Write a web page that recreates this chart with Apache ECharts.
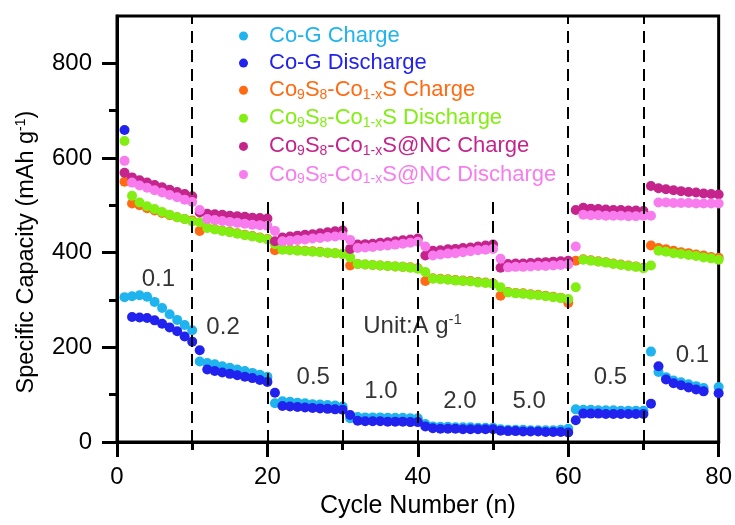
<!DOCTYPE html>
<html>
<head>
<meta charset="utf-8">
<script src="https://cdn.jsdelivr.net/npm/echarts@6/dist/echarts.min.js"></script>
<style>
html, body { margin: 0; padding: 0; background: #fff; }
#chart { width: 735px; height: 525px; }
</style>
</head>
<body>
<div id="chart"></div>
<script>
// cycle number of every point
var cycles = [];
for (var c = 1; c <= 80; c++) cycles.push(c);

// capacities (mAh/g), one value per cycle, null = no point
var coGCharge = [
	306, 308, 310, 307, 296, 283, 270, 258, 247, 236,
	170, 167, 164, 160, 157, 153, 150, 146, 142, 138,
	82, 86, 85, 83, 82, 80, 79, 78, 77, 75,
	50, 53, 52, 52, 52, 51, 51, 51, 50, 50,
	38, 33, 32, 32, 31, 31, 31, 30, 30, 30,
	27, 26, 26, 26, 25, 25, 25, 25, 26, 28,
	69, 68, 68, 67, 67, 67, 66, 66, 66, 66,
	191, 148, 137, 130, 126, 122, 118, 114, null, 116
];
var coGDischarge = [
	659, 264, 263, 262, 257, 250, 242, 234, 223, 212,
	194, 153, 150, 147, 144, 141, 138, 135, 131, 127,
	104, 76, 75, 74, 73, 72, 71, 70, 69, 68,
	57, 45, 44, 44, 44, 43, 43, 43, 42, 42,
	33, 29, 28, 28, 28, 27, 27, 27, 27, 27,
	24, 23, 23, 22, 22, 22, 21, 21, 21, 20,
	46, 60, 60, 60, 59, 59, 59, 59, 59, 59,
	81, 160, 132, 124, 120, 115, 111, 107, null, 103
];
var coSCharge = [
	550, 504, 500, 494, 489, 484, 479, 475, 471, 468,
	446, 453, 450, 447, 444, 441, 438, 435, 432, 429,
	405, 407, 406, 405, 404, 403, 402, 400, 399, 397,
	373, 376, 375, 374, 373, 372, 371, 370, 369, 367,
	340, 346, 345, 344, 342, 341, 340, 338, 337, 335,
	309, 317, 315, 314, 312, 311, 309, 307, 305, 294,
	383, 386, 384, 382, 380, 377, 375, 373, 371, 368,
	415, 410, 407, 404, 401, 399, 396, 394, 391, 389
];
var coSDischarge = [
	636, 520, 506, 498, 492, 486, 480, 475, 471, 466,
	464, 452, 449, 446, 443, 440, 437, 434, 431, 428,
	418, 406, 405, 404, 403, 402, 401, 400, 399, 397,
	390, 376, 375, 374, 373, 372, 371, 370, 368, 366,
	359, 345, 344, 343, 341, 340, 339, 337, 336, 334,
	327, 316, 314, 313, 311, 310, 308, 306, 304, 302,
	327, 385, 383, 381, 379, 376, 374, 372, 370, 367,
	373, 404, 402, 399, 397, 395, 393, 390, 388, 385
];
var coSNCCharge = [
	569, 559, 553, 548, 543, 538, 533, 528, 524, 519,
	485, 482, 481, 480, 478, 477, 476, 474, 473, 472,
	424, 432, 434, 436, 438, 439, 441, 443, 445, 447,
	408, 417, 418, 419, 421, 422, 424, 426, 428, 430,
	394, 404, 405, 407, 408, 410, 411, 413, 415, 417,
	368, 376, 377, 377, 378, 379, 380, 381, 382, 383,
	490, 495, 493, 492, 491, 490, 490, 489, 489, 488,
	541, 536, 534, 532, 530, 528, 527, 525, 524, 523
];
var coSNCDischarge = [
	594, 548, 542, 537, 532, 527, 522, 517, 512, 507,
	490, 471, 469, 467, 465, 463, 461, 459, 458, 457,
	446, 424, 425, 427, 428, 430, 431, 433, 434, 436,
	427, 410, 411, 412, 414, 415, 417, 419, 421, 423,
	413, 394, 396, 398, 399, 401, 403, 405, 406, 408,
	387, 369, 370, 370, 371, 372, 372, 373, 374, 375,
	413, 480, 479, 479, 478, 478, 478, 477, 477, 478,
	478, 506, 506, 505, 505, 505, 504, 504, 504, 504
];

var seriesNames = ['Co-G Charge', 'Co-G Discharge', 'CoS Charge', 'CoS Discharge', 'CoS@NC Charge', 'CoS@NC Discharge'];
var seriesValues = [coGCharge, coGDischarge, coSCharge, coSDischarge, coSNCCharge, coSNCDischarge];
var seriesColors = ['#1fb4ee', '#2222ee', '#ff6a12', '#82ee12', '#c4248c', '#f87cee'];
// legend text, # is replaced by the series index for its colour
var legendText = [
	'{g| }{n#|Co-G Charge}',
	'{g| }{n#|Co-G Discharge}',
	'{g| }{n#|Co}{s#|9}{n#|S}{s#|8}{n#|-Co}{s#|1-x}{n#|S Charge}',
	'{g| }{n#|Co}{s#|9}{n#|S}{s#|8}{n#|-Co}{s#|1-x}{n#|S Discharge}',
	'{g| }{n#|Co}{s#|9}{n#|S}{s#|8}{n#|-Co}{s#|1-x}{n#|S@NC Charge}',
	'{g| }{n#|Co}{s#|9}{n#|S}{s#|8}{n#|-Co}{s#|1-x}{n#|S@NC Discharge}'
];

// current-rate notes and dashed dividers
var rateText = ['0.1', '0.2', '0.5', '1.0', '{t|Unit:A g}{sup|-1}', '2.0', '5.0', '0.5', '0.1'];
var rateX = [5.5, 14.1, 26.1, 35.1, 39.3, 45.6, 54.8, 65.6, 76.5];
var rateY = [343, 242, 137, 107, 244, 86, 86, 137, 183];
var dividerX = [10, 20, 30, 40, 50, 60, 70];
var dividerTop = [900, 510, 510, 510, 510, 900, 900];

var xTicks = [0, 20, 40, 60, 80];
var xMinor = [10, 30, 50, 70];
var yTicks = [0, 200, 400, 600, 800];
var yMinor = [100, 300, 500, 700];

var FONT = '"Liberation Sans", Arial, sans-serif';

var legendRich = { g: { width: 16, fontSize: 22, lineHeight: 24 } };
seriesColors.forEach(function (col, i) {
	legendRich['n' + i] = { color: col, fontSize: 22, lineHeight: 24, fontFamily: FONT };
	legendRich['s' + i] = { color: col, fontSize: 14, lineHeight: 12, verticalAlign: 'bottom', fontFamily: FONT };
});

var series = seriesNames.map(function (name, i) {
	var pts = [];
	cycles.forEach(function (cy, k) {
		if (seriesValues[i][k] != null) pts.push([cy, seriesValues[i][k]]);
	});
	return {
		name: name,
		type: 'scatter',
		data: pts,
		symbol: 'circle',
		symbolSize: 10,
		clip: false,
		itemStyle: { color: seriesColors[i], opacity: 1 },
		emphasis: { disabled: true }
	};
});

series.push({
	name: 'notes',
	type: 'scatter',
	silent: true,
	symbolSize: 0,
	clip: false,
	data: rateText.map(function (t, i) {
		return { name: t, value: [rateX[i], rateY[i]] };
	}),
	label: {
		show: true,
		position: 'inside',
		formatter: function (p) { return p.name; },
		color: '#000',
		fontSize: 24,
		fontFamily: FONT,
		rich: {
			t: { fontSize: 24, lineHeight: 28, color: '#000', fontFamily: FONT },
			sup: { fontSize: 15, lineHeight: 12, verticalAlign: 'top', color: '#000', fontFamily: FONT }
		}
	},
	markLine: {
		silent: true,
		symbol: 'none',
		label: { show: false },
		lineStyle: { color: '#000', width: 2, type: [12, 7] },
		data: dividerX.map(function (x, i) {
			return [{ coord: [x, 0] }, { coord: [x, dividerTop[i]] }];
		})
	}
});

var myChart = echarts.init(document.getElementById('chart'));
var option = {
	animation: false,
	backgroundColor: '#fff',
	grid: {
		left: 117, right: 16, top: 16, bottom: 83,
		show: true, borderColor: '#000', borderWidth: 3
	},
	legend: {
		orient: 'vertical',
		left: 234,
		top: 20,
		padding: 5,
		itemWidth: 9,
		itemHeight: 9,
		itemGap: 5.1,
		icon: 'circle',
		selectedMode: false,
		data: seriesNames,
		formatter: function (name) {
			var i = seriesNames.indexOf(name);
			return legendText[i].replace(/#/g, i);
		},
		textStyle: { fontSize: 22, fontFamily: FONT, rich: legendRich }
	},
	xAxis: [{
		type: 'value',
		min: 0,
		max: 80,
		name: 'Cycle Number (n)',
		nameLocation: 'middle',
		nameGap: 50,
		nameTextStyle: { color: '#000', fontSize: 25, fontFamily: FONT },
		splitLine: { show: false },
		axisLine: { lineStyle: { color: '#000', width: 3 } },
		axisTick: { length: 15, lineStyle: { color: '#000', width: 3 }, customValues: xTicks },
		axisLabel: { color: '#000', fontSize: 24, fontFamily: FONT, margin: 23, customValues: xTicks }
	}, {
		type: 'value',
		min: 0,
		max: 80,
		position: 'bottom',
		splitLine: { show: false },
		axisLine: { show: false },
		axisTick: { length: 8, lineStyle: { color: '#000', width: 3 }, customValues: xMinor },
		axisLabel: { show: false }
	}],
	yAxis: [{
		type: 'value',
		min: 0,
		max: 900,
		name: '{a|Specific Capacity (mAh g}{sup|-1}{a|)}',
		nameLocation: 'middle',
		nameGap: 77,
		nameTextStyle: {
			color: '#000',
			fontSize: 23.5,
			fontFamily: FONT,
			padding: [0, 46, 0, 0],
			rich: {
				a: { fontSize: 23.5, lineHeight: 26, color: '#000', fontFamily: FONT },
				sup: { fontSize: 14, lineHeight: 12, verticalAlign: 'top', color: '#000', fontFamily: FONT }
			}
		},
		splitLine: { show: false },
		axisLine: { lineStyle: { color: '#000', width: 3 } },
		axisTick: { length: 15, lineStyle: { color: '#000', width: 3 }, customValues: yTicks },
		axisLabel: { color: '#000', fontSize: 24, fontFamily: FONT, margin: 25, customValues: yTicks }
	}, {
		type: 'value',
		min: 0,
		max: 900,
		position: 'left',
		splitLine: { show: false },
		axisLine: { show: false },
		axisTick: { length: 8, lineStyle: { color: '#000', width: 3 }, customValues: yMinor },
		axisLabel: { show: false }
	}],
	series: series
};
myChart.setOption(option);
</script>
</body>
</html>
